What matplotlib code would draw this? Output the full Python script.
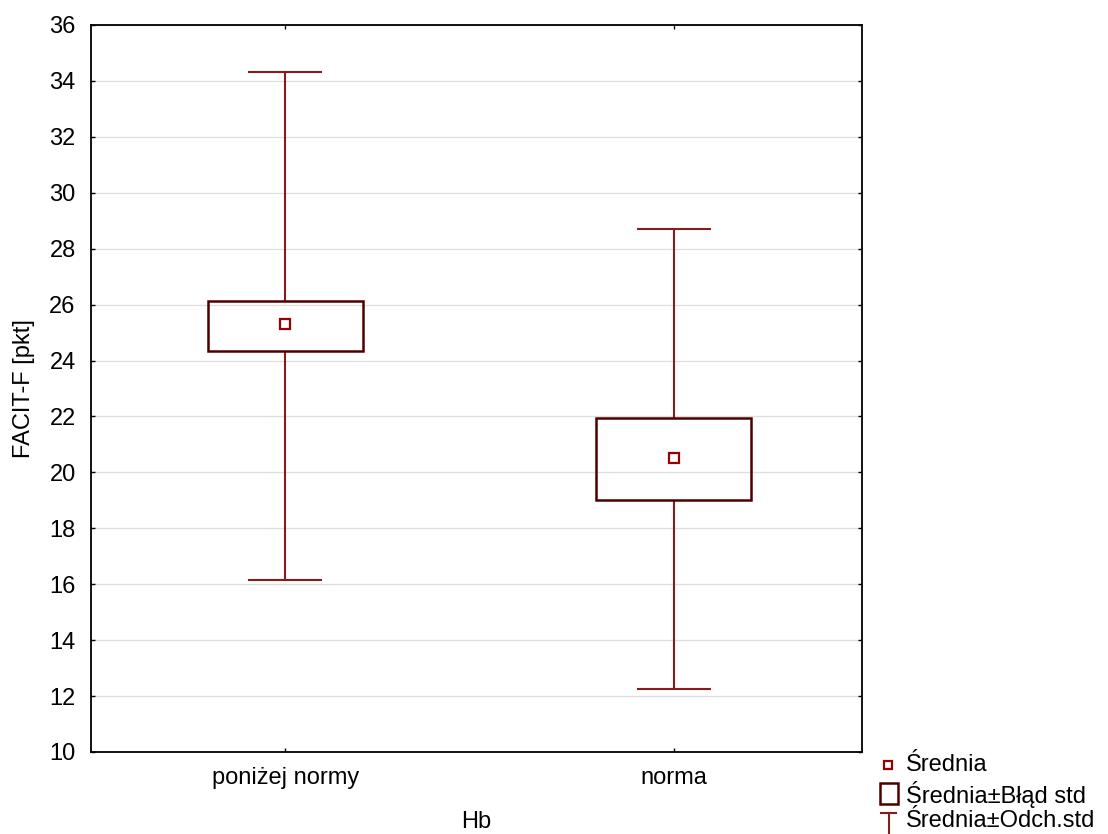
import matplotlib.pyplot as plt
from matplotlib.lines import Line2D
from matplotlib.patches import Rectangle
import numpy as np

plt.rcParams['font.family'] = ['Liberation Sans', 'DejaVu Sans']

# group summaries of FACIT-F by Hb level
groups = ['poniżej normy', 'norma']
means = [25.3, 20.5]
se_low = [24.35, 19.02]
se_high = [26.12, 21.93]
sd_low = [16.15, 12.27]
sd_high = [34.32, 28.70]
legend_labels = ['Średnia', 'Średnia±Błąd std', 'Średnia±Odch.std']

box_col = '#4d0000'
whisk_col = '#8b1a1a'
mean_col = '#990000'
fs = 17

W, H = 1108, 834
fig = plt.figure(figsize=(W / 100, H / 100), dpi=100)
ax = fig.add_axes([91/W, 1-752/H, 771/W, 727/H])

x = np.arange(len(groups))

# mean +- std error boxes
ax.bar(x, np.array(se_high) - np.array(se_low), bottom=se_low, width=0.4,
       fill=False, edgecolor=box_col, linewidth=1.8, zorder=3)

# whiskers for mean +- std dev
ax.vlines(x, se_high, sd_high, color=whisk_col, linewidth=1.5, zorder=2)
ax.vlines(x, sd_low, se_low, color=whisk_col, linewidth=1.5, zorder=2)
ax.hlines(sd_high, x - 0.095, x + 0.095, color=whisk_col, linewidth=1.5, zorder=2)
ax.hlines(sd_low, x - 0.095, x + 0.095, color=whisk_col, linewidth=1.5, zorder=2)

# means
ax.plot(x, means, linestyle='none', marker='s', markersize=7, markerfacecolor='white',
        markeredgecolor=mean_col, markeredgewidth=1.6, zorder=4)

ax.set_xlim(-0.5, 1.485)
ax.set_ylim(10, 36)
ax.set_yticks(np.arange(10, 37, 2))
ax.set_xticks(x)
ax.set_xticklabels(groups)
ax.tick_params(direction='in', length=3, width=1, labelsize=fs, top=True, right=True, pad=11)
ax.grid(axis='y', color='#dddddd', linewidth=0.9)
ax.set_axisbelow(True)
for s in ax.spines.values():
    s.set_linewidth(1.3)

ax.set_xlabel('Hb', fontsize=fs, labelpad=16)
ax.set_ylabel('FACIT-F [pkt]', fontsize=fs, labelpad=10)


# legend drawn by hand in pixel positions, below-right of the axes
def fx(px):
    return px / W


def fy(py):
    return 1 - py / H


rows = [765, 794, 821]
fig.add_artist(Rectangle((fx(884), fy(769)), 8/W, 8/H, transform=fig.transFigure,
                         fill=False, edgecolor=mean_col, linewidth=1.6))
fig.add_artist(Rectangle((fx(880), fy(804)), 18/W, 21/H, transform=fig.transFigure,
                         fill=False, edgecolor=box_col, linewidth=1.8))
fig.add_artist(Line2D([fx(881), fx(896)], [fy(813), fy(813)], transform=fig.transFigure,
                      color=whisk_col, linewidth=1.5))
fig.add_artist(Line2D([fx(888.5), fx(888.5)], [fy(813), fy(834)], transform=fig.transFigure,
                      color=whisk_col, linewidth=1.5))
for r, lab in zip(rows, legend_labels):
    fig.text(fx(906), fy(r), lab, fontsize=fs, va='center', ha='left')

fig.savefig('out.png', dpi=100)
